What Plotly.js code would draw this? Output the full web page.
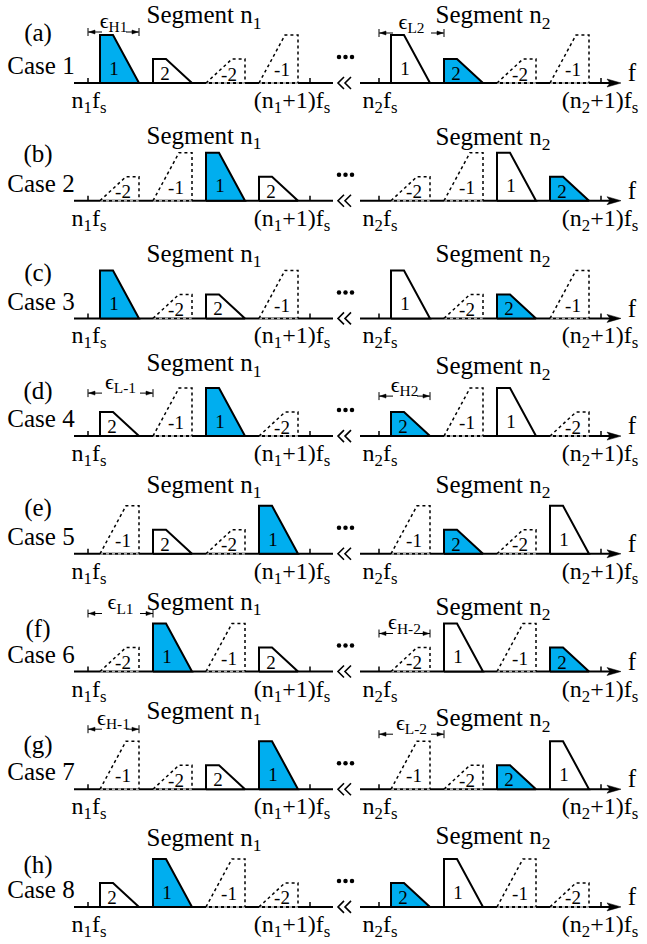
<!DOCTYPE html>
<html><head><meta charset="utf-8">
<script src="https://cdn.plot.ly/plotly-3.0.1.min.js"></script>
<style>html,body{margin:0;padding:0;background:#fff;}#chart{width:647px;height:944px;}</style>
</head><body><div id="chart"></div>
<script>
// ---------------- data ----------------
const panelLabels = ['(a)','(b)','(c)','(d)','(e)','(f)','(g)','(h)'];
const caseLabels = ['Case 1','Case 2','Case 3','Case 4','Case 5','Case 6','Case 7','Case 8'];
// band order (slot 1..4) in segment n1 and segment n2 for each case
const segment1Order = [
  [1, 2, -2, -1],
  [-2, -1, 1, 2],
  [1, -2, 2, -1],
  [2, -1, 1, -2],
  [-1, 2, -2, 1],
  [-2, 1, -1, 2],
  [-1, -2, 2, 1],
  [2, 1, -1, -2]
];
const segment2Order = [
  [1, 2, -2, -1],
  [-2, -1, 1, 2],
  [1, -2, 2, -1],
  [2, -1, 1, -2],
  [-1, 2, -2, 1],
  [-2, 1, -1, 2],
  [-1, -2, 2, 1],
  [2, 1, -1, -2]
];
const segment1Filled = [1, 1, 1, 1, 1, 1, 1, 1];
const segment2Filled = [2, 2, 2, 2, 2, 2, 2, 2];
const segmentNames = ['Segment n<sub>1</sub>', 'Segment n<sub>2</sub>'];
const startTickLabels = ['n<sub>1</sub>f<sub>s</sub>', 'n<sub>2</sub>f<sub>s</sub>'];
const endTickLabels = ['(n<sub>1</sub>+1)f<sub>s</sub>', '(n<sub>2</sub>+1)f<sub>s</sub>'];
// epsilon dimension markers
const epsCase    = [0, 0, 3, 3, 5, 5, 6, 6];
const epsSegment = [0, 1, 0, 1, 0, 1, 0, 1];
const epsSub     = ['H1', 'L2', 'L-1', 'H2', 'L1', 'H-2', 'H-1', 'L-2'];
const epsEdge    = ['H', 'L', 'L', 'H', 'L', 'H', 'H', 'L'];
const epsBand    = [1, 2, -1, 2, 1, -2, -1, -2];

// ---------------- geometry / style ----------------
const FONT = 'Liberation Serif';
const BLUE = '#00AEEF';
const rowBase = i => 83 + i * 117.7;
const segTick0 = [88, 379];
const segLen = 222;
const slotOff = 12, slotPitch = 53, slotW = 39, slotTop = 13;
const tallH = 48, shortH = 24;
const epsDy = [-51, -50, -43, -40, -58, -38, -60, -55];
const segLabelDy = [[-66, -63, -63, -71, -67, -68, -76, -67], [-66, -62, -63, -68, -67, -63, -69, -69]];
const panelDy = [-48, -45, -44, -43, -44, -41, -42, -40];

const traces = [];
const txt = {x: [], y: [], text: [], size: []};
function addLine(xs, ys, width, dash, color) {
  traces.push({type: 'scatter', mode: 'lines', x: xs, y: ys,
    line: {color: color || '#000', width: width, dash: dash || 'solid'},
    hoverinfo: 'skip', showlegend: false});
}
function addPoly(xs, ys) {
  traces.push({type: 'scatter', mode: 'lines', x: xs, y: ys, fill: 'toself', fillcolor: '#000',
    line: {color: '#000', width: 0.5}, hoverinfo: 'skip', showlegend: false});
}
function addText(x, y, text, size) {
  txt.x.push(x); txt.y.push(y); txt.text.push(text); txt.size.push(size);
}
function slotX(seg, k) { return segTick0[seg] + slotOff + k * slotPitch; }

function drawBand(code, x0, b, filled) {
  const h = Math.abs(code) === 1 ? tallH : shortH;
  if (code > 0) {
    traces.push({type: 'scatter', mode: 'lines',
      x: [x0, x0, x0 + slotTop, x0 + slotW, x0], y: [b, b - h, b - h, b, b],
      fill: 'toself', fillcolor: filled ? BLUE : 'rgba(255,255,255,1)',
      line: {color: '#000', width: 2}, hoverinfo: 'skip', showlegend: false});
    const lx = x0 + (code === 1 ? 14 : 12);
    addText(lx, b - (code === 1 ? 0.27 : 0.32) * h, String(code), 19);
  } else {
    addLine([x0, x0 + slotW], [b, b], 2, 'dot', '#aaa');
    addLine([x0, x0 + slotW - slotTop, x0 + slotW, x0 + slotW], [b, b - h, b - h, b], 1.5, 'dot');
    addText(x0 + 23, b - (code === -1 ? 0.24 : 0.3) * h, String(code), 19);
  }
}

const orders = [segment1Order, segment2Order];
const filledArr = [segment1Filled, segment2Filled];

for (let i = 0; i < 8; i++) {
  const b = rowBase(i);
  addLine([74, 333], [b, b], 2);
  addLine([360, 612], [b, b], 2);
  addPoly([607, 621, 607, 610, 607], [b - 4, b, b + 4, b, b - 4]);
  for (let k = 0; k < 2; k++) {
    const x = 338 + k * 7;
    addLine([x + 6, x, x + 6], [b - 6, b, b + 6], 1.6);
  }
  traces.push({type: 'scatter', mode: 'markers', x: [339, 345.5, 352], y: [b - 26, b - 26, b - 26],
    marker: {color: '#000', size: 4.5}, hoverinfo: 'skip', showlegend: false});
  addText(632, b - 8, 'f', 25);
  addText(38, b + panelDy[i], panelLabels[i], 25);
  addText(41, b - 15, caseLabels[i], 25);
  for (let s = 0; s < 2; s++) {
    const t0 = segTick0[s];
    addLine([t0, t0], [b, b - 5], 1.5);
    addLine([t0 + segLen, t0 + segLen], [b, b - 5], 1.5);
    const ord = orders[s][i];
    for (let k = 0; k < 4; k++) drawBand(ord[k], slotX(s, k), b, ord[k] === filledArr[s][i]);
    addText(s === 0 ? 204 : 493, b + segLabelDy[s][i], segmentNames[s], 25);
    addText(t0 + 1, b + 19, startTickLabels[s], 24);
    addText(s === 0 ? t0 + segLen - 18 : t0 + segLen - 1, b + 19, endTickLabels[s], 24);
  }
}

for (let j = 0; j < epsCase.length; j++) {
  const i = epsCase[j], s = epsSegment[j];
  const b = rowBase(i);
  const y = b + epsDy[j];
  const t0 = segTick0[s];
  const k = orders[s][i].indexOf(epsBand[j]);
  const xe = epsEdge[j] === 'H' ? slotX(s, k) + slotW : slotX(s, k);
  addLine([t0, t0], [y - 4, y + 4], 1);
  addLine([xe, xe], [y - 4, y + 4], 1);
  addLine([t0, t0 + 14], [y, y], 1);
  addLine([xe - 13, xe], [y, y], 1);
  addPoly([t0 + 1, t0 + 7, t0 + 7, t0 + 1], [y, y - 2, y + 2, y]);
  addPoly([xe - 1, xe - 7, xe - 7, xe - 1], [y, y - 2, y + 2, y]);
  addText((t0 + xe) / 2, y - 10, '\u03F5<sub>' + epsSub[j] + '</sub>', 22);
}

traces.push({type: 'scatter', mode: 'text', x: txt.x, y: txt.y, text: txt.text,
  textposition: 'middle center', cliponaxis: false,
  textfont: {family: FONT, size: txt.size, color: '#000'},
  hoverinfo: 'skip', showlegend: false});

const layout = {
  width: 647, height: 944,
  margin: {l: 0, r: 0, t: 0, b: 0},
  paper_bgcolor: '#fff', plot_bgcolor: '#fff',
  font: {family: FONT, size: 24, color: '#000'},
  xaxis: {range: [0, 647], visible: false, fixedrange: true},
  yaxis: {range: [944, 0], visible: false, fixedrange: true},
  showlegend: false
};
Plotly.newPlot('chart', traces, layout, {displayModeBar: false});
</script>
</body></html>
